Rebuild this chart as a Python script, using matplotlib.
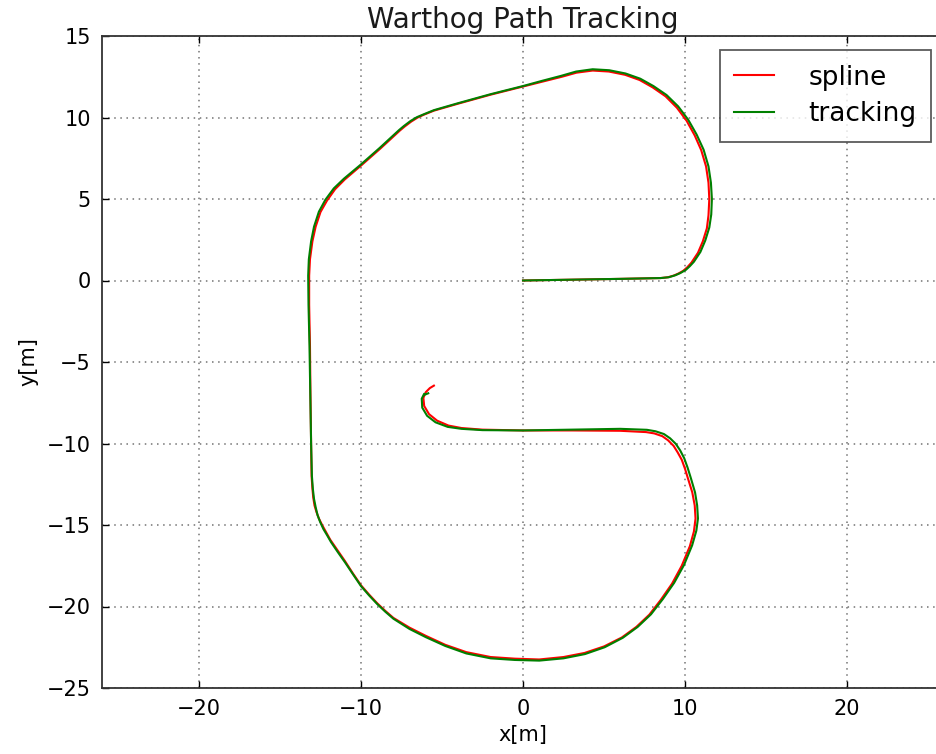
import matplotlib
matplotlib.use('Agg')
import matplotlib.pyplot as plt

# reference spline waypoints [m]
spline_x = [0, 3, 6, 8.5, 8.95, 9.3, 9.6, 9.9, 10.15, 10.4, 10.8, 11.1, 11.35, 11.45, 11.5, 11.45, 11.3,
            11.0, 10.6, 10.1, 9.5, 8.8, 8.0, 7.2, 6.3, 5.3, 4.3, 3.3, 2.4, 1.2, 0,
            -2, -4, -5.5, -6.1, -6.5, -6.9, -7.3, -7.6, -8.2, -8.8, -10.0, -11.0, -11.6, -12.1, -12.5, -12.8,
            -13.0, -13.15, -13.2, -13.2, -13.15, -13.12, -13.08, -13.05, -13.0, -12.95, -12.87, -12.75,
            -12.6, -12.4, -12.15, -11.9, -11.45, -11.0, -10.5, -10.0, -9.5, -9.0, -8.5, -8.0, -7.0, -6.0, -4.8, -3.5, -2.0, -0.5,
            1.0, 2.5, 3.8, 5.0, 6.1, 7.0, 7.8, 8.5, 9.2, 9.8, 10.3, 10.55, 10.65, 10.6, 10.45,
            10.2, 10.0, 9.8, 9.55, 9.3, 8.95, 8.6, 8.1, 7.6, 6.0, 3.0, 0, -2.5, -3.8, -4.6, -5.3, -5.8, -6.1,
            -6.15, -6.0, -5.75, -5.5]
spline_y = [0, 0.05, 0.1, 0.15, 0.2, 0.3, 0.43, 0.6, 0.82, 1.1, 1.7, 2.4, 3.2, 4.0, 5.0, 6.0, 7.0,
            8.0, 8.9, 9.8, 10.6, 11.3, 11.85, 12.3, 12.62, 12.82, 12.88, 12.75, 12.5, 12.2, 11.9,
            11.4, 10.85, 10.42, 10.18, 10.0, 9.75, 9.45, 9.2, 8.65, 8.1, 7.05, 6.2, 5.6, 4.9, 4.2, 3.3,
            2.4, 1.3, 0.3, -1.5, -4, -7, -10, -12.0, -12.75, -13.3, -13.8, -14.2,
            -14.6, -15.0, -15.45, -15.9, -16.55, -17.2, -17.97, -18.7, -19.27, -19.8, -20.27, -20.7, -21.3, -21.8, -22.35, -22.8, -23.1, -23.2,
            -23.25, -23.1, -22.85, -22.45, -21.9, -21.25, -20.5, -19.6, -18.6, -17.5, -16.3, -15.4, -14.6, -13.8, -13.0,
            -12.2, -11.55, -11.0, -10.55, -10.15, -9.8, -9.55, -9.38, -9.3, -9.22, -9.2, -9.2, -9.15, -9.05, -8.9, -8.6, -8.2, -7.7,
            -7.2, -6.85, -6.6, -6.45]

# measured vehicle track [m]
track_x = [0, 3, 6, 8.5, 9.0, 9.4, 9.72, 10.05, 10.3, 10.55, 10.95, 11.25, 11.5, 11.62, 11.66, 11.6, 11.45,
           11.15, 10.72, 10.2, 9.58, 8.86, 8.05, 7.24, 6.33, 5.32, 4.3, 3.28, 2.37, 1.18, 0,
           -2, -4, -5.5, -6.12, -6.55, -6.95, -7.35, -7.65, -8.25, -8.85, -10.05, -11.05, -11.68, -12.2, -12.6, -12.9,
           -13.08, -13.22, -13.26, -13.24, -13.18, -13.13, -13.08, -13.03, -12.97, -12.9, -12.8, -12.68,
           -12.52, -12.32, -12.08, -11.85, -11.42, -10.98, -10.49, -10.0, -9.5, -9.0, -8.5, -8.0, -7.0, -6.0, -4.8, -3.5, -2.0, -0.5,
           1.0, 2.5, 3.82, 5.04, 6.16, 7.08, 7.9, 8.62, 9.33, 9.94, 10.44, 10.7, 10.8, 10.75, 10.62,
           10.37, 10.16, 9.95, 9.7, 9.43, 9.08, 8.7, 8.18, 7.65, 6.0, 3.0, 0, -2.5, -3.8, -4.65, -5.4, -5.92, -6.22,
           -6.25, -6.1, -6.05, -5.85]
track_y = [0, 0.05, 0.1, 0.15, 0.2, 0.32, 0.46, 0.65, 0.88, 1.15, 1.75, 2.45, 3.25, 4.05, 5.0, 6.0, 7.0,
           8.02, 8.95, 9.86, 10.68, 11.38, 11.93, 12.38, 12.7, 12.9, 12.96, 12.82, 12.56, 12.25, 11.93,
           11.43, 10.88, 10.45, 10.2, 10.02, 9.78, 9.48, 9.23, 8.68, 8.13, 7.08, 6.25, 5.65, 4.95, 4.22, 3.3,
           2.4, 1.3, 0.3, -1.5, -4, -7, -10, -12.0, -12.8, -13.4, -13.9, -14.4,
           -14.82, -15.25, -15.65, -16.05, -16.68, -17.3, -18.03, -18.75, -19.32, -19.85, -20.32, -20.75, -21.38, -21.88, -22.42, -22.88, -23.18, -23.28,
           -23.32, -23.18, -22.92, -22.5, -21.92, -21.25, -20.48, -19.56, -18.55, -17.45, -16.25, -15.35, -14.6, -13.8, -13.0,
           -12.15, -11.48, -10.9, -10.42, -10.02, -9.68, -9.42, -9.25, -9.16, -9.1, -9.15, -9.2, -9.18, -9.1, -8.98, -8.7, -8.3, -7.8,
           -7.25, -6.95, -7.0, -6.92]

fig = plt.figure(figsize=(9.37, 7.54), dpi=100)
ax = fig.add_axes([101.8 / 937, 66 / 754, 842.4 / 937, 652 / 754])

ax.plot(spline_x, spline_y, color='r', lw=1.5, label='spline')
ax.plot(track_x, track_y, color='g', lw=1.5, label='tracking')

ax.set_xlim(-26, 26)
ax.set_ylim(-25, 15)
ax.set_xticks([-20, -10, 0, 10, 20])
ax.set_yticks(range(-25, 16, 5))
ax.tick_params(direction='in', length=5, width=1, labelsize=15, top=True, right=False, pad=8)
for s in ax.spines.values():
    s.set_linewidth(1.3)
    s.set_color('0.2')
ax.spines['right'].set_visible(False)

ax.grid(True, color='0.45', linestyle=(0, (1, 3)), linewidth=1.1)

ax.set_title('Warthog Path Tracking', fontsize=20, pad=6, color='0.1')
ax.set_xlabel('x[m]', fontsize=15, labelpad=4)
ax.set_ylabel('y[m]', fontsize=15, labelpad=6)

leg = ax.legend(loc='upper right', bbox_to_anchor=(931 / 937, 1 - 50 / 754),
                bbox_transform=fig.transFigure, borderaxespad=0, fontsize=19,
                fancybox=False, handlelength=1.5, handletextpad=1.3, borderpad=0.55,
                labelspacing=0.4)
leg.get_frame().set_edgecolor('0.2')
leg.get_frame().set_linewidth(1.3)

fig.savefig('out.png', dpi=100)
